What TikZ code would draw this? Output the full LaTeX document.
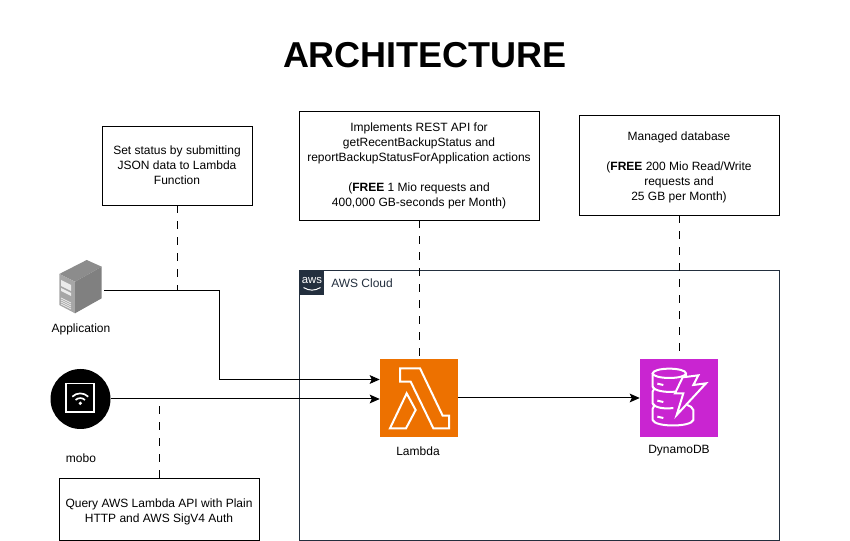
\documentclass[tikz,border=0pt]{standalone}
\usepackage{fontspec}
\setmainfont{Liberation Sans}
\usepackage{tikz}
\usetikzlibrary{arrows.meta, positioning}
\definecolor{awsdark}{HTML}{232F3E}
\definecolor{lambdaorange}{HTML}{ED7100}
\definecolor{dynamopurple}{HTML}{C925D1}

\begin{document}
\begin{tikzpicture}[x=0.75pt, y=-0.75pt, node distance=1cm]

    % Define styles for the nodes
    \tikzstyle{notebox} = [
        rectangle, text centered, draw=black, inner sep=0pt, align=center,
        font=\fontsize{9}{11.25}\selectfont
    ]
    \tikzstyle{iconbox} = [
        rectangle, draw=none, inner sep=0pt,
        minimum width=58.5pt, minimum height=58.5pt
    ]
    \tikzstyle{caption} = [text=black, font=\fontsize{9}{11}\selectfont]
    \tikzstyle{arrow} = [-{Stealth[length=7.5pt, width=6.5pt, inset=1.5pt]}, line width=0.75pt]
    \tikzstyle{dashline} = [line width=0.75pt, dash pattern=on 6pt off 6pt]
    \tikzstyle{glyph} = [draw=white, line width=1.5pt, line join=miter]

    \useasboundingbox (0,0) rectangle (850,541);
    \fill [white] (0,0) rectangle (850,541);

    % Title
    \node (title) at (425,55.5) {\fontsize{27}{32}\selectfont\bfseries ARCHITECTURE};

    % Cloud group
    \node (cloud) [rectangle, draw=awsdark, line width=0.75pt, minimum width=360pt, minimum height=202pt, inner sep=0pt] at (539,405.5) {};
    \node (awslogo) [rectangle, fill=awsdark, minimum width=18.5pt, minimum height=18.5pt, inner sep=0pt] at (312,282.5) {};
    \node [text=white, font=\fontsize{8.5}{8.5}\selectfont] (awsword) at (312,280.5) {aws};
    \draw [white, line width=0.75pt] (303.5,287.5) .. controls (309,291) and (315,291) .. (320.5,287.5);
    \node (cloudlabel) [anchor=west, text=awsdark, inner sep=0pt, font=\fontsize{9}{11}\selectfont] at (331,283.5) {AWS Cloud};

    % Nodes
    \node (status) [notebox, minimum width=112.5pt, minimum height=59.25pt] at (177,165.5) {Set status by submitting\\JSON data to Lambda\\Function};
    \node (rest) [notebox, minimum width=180pt, minimum height=81.75pt] at (419,165.5) {\rule{0pt}{7.5pt}Implements REST API for\\getRecentBackupStatus and\\reportBackupStatusForApplication actions\\[11.25pt](\textbf{FREE} 1 Mio requests and\\400,000 GB-seconds per Month)};
    \node (managed) [notebox, minimum width=150pt, minimum height=75pt] at (679,165) {\rule{0pt}{9.5pt}Managed database\\[11.25pt](\textbf{FREE} 200 Mio Read/Write\\requests and\\25 GB per Month)};
    \node (query) [notebox, minimum width=150pt, minimum height=46.5pt] at (159,509) {\rule{0pt}{11pt}Query AWS Lambda API with Plain\\HTTP and AWS SigV4 Auth};

    \node (server) [rectangle, minimum width=32pt, minimum height=40pt, inner sep=0pt] at (80.5,286.5) {};
    \node (application) [caption] at (81,329) {Application};
    \node (mobile) [circle, fill=black, minimum size=45pt, inner sep=0pt] at (80.5,399) {};
    \node (mobo) [caption] at (81,458) {mobo};
    \node (lambda) [iconbox, fill=lambdaorange] at (419,398) {};
    \node (lambdalabel) [caption] at (418,451) {Lambda};
    \node (dynamo) [iconbox, fill=dynamopurple] at (679,398) {};
    \node (dynamolabel) [caption] at (679,451) {DynamoDB};

    % Server icon
    \fill [black!45] (59.3,274) -- (86.7,260) -- (101.7,266.7) -- (75,281.7) -- cycle;
    \fill [black!35] (59.3,274) -- (75,281.7) -- (75,313.3) -- (59.3,305) -- cycle;
    \fill [black!50] (75,281.7) -- (101.7,266.7) -- (101.7,298.3) -- (75,313.3) -- cycle;
    \fill [white!85!gray] (61,280) -- (71,285) -- (71,291) -- (61,286) -- cycle;
    \fill [white!85!gray] (61,288) -- (71,293) -- (71,296) -- (61,291) -- cycle;
    \foreach \i in {0,1,2,3} {
        \draw [white!85!gray, line width=0.6pt] (61,298+2*\i) -- (71,303+2*\i);
    }

    % Mobile icon
    \draw [white, line width=1.25pt] (65.7,383.5) rectangle (94.3,412.3);
    \fill [white] (80.3,403.3) circle (1.8);
    \draw [white, line width=1.25pt] (75.6,400) arc (-135:-45:6.6);
    \draw [white, line width=1.25pt] (72.3,396.7) arc (-135:-45:11.3);

    % Lambda icon
    \begin{scope}[shift={(370,350)}, x=0.25pt, y=-0.25pt]
        \draw [glyph] (90,55) -- (150,55) -- (218,197) -- (237,197) -- (237,235) -- (190,235) -- (122,95) -- (90,95) -- cycle;
        \draw [glyph] (60,235) -- (110,130) -- (137,180) -- (108,235) -- cycle;
    \end{scope}

    % DynamoDB icon
    \begin{scope}[shift={(630,350)}, x=0.25pt, y=-0.25pt]
        \draw [glyph] (118,70) ellipse (50 and 14);
        \draw [glyph] (168,70) -- (168,85);
        \draw [glyph] (68,70) -- (68,110) .. controls (72,122) and (105,128) .. (135,125);
        \draw [glyph] (68,110) .. controls (74,116) and (74,118) .. (68,124) -- (68,160) .. controls (72,172) and (100,178) .. (130,174);
        \draw [glyph] (68,160) .. controls (74,166) and (74,170) .. (68,176) -- (68,210) .. controls (75,232) and (183,232) .. (190,210) -- (190,180) .. controls (188,172) and (180,168) .. (172,165);
        \foreach \y in {101,152,200} {
            \draw [glyph] (82,\y) -- (100,\y+4);
        }
        \draw [glyph, fill=dynamopurple] (158,82) -- (205,76) -- (190,105) -- (228,100) -- (140,195) -- (160,130) -- (135,130) -- cycle;
    \end{scope}

    % Arrows
    \coordinate (appturn) at (219,290.5);
    \coordinate (appstub) at (status.south |- appturn);
    \coordinate (dynamostub) at (679,352);
    \draw [arrow] (104,290.5) -- (appturn) |- (lambda.west |- 0,379.5);
    \draw [arrow] (mobile.east) -- (lambda.west |- mobile.east);
    \draw [arrow] (lambda.east) -- (dynamo.west);
    \draw [dashline] (status.south) -- (appstub);
    \draw [dashline] (rest.south) -- (lambda.north);
    \draw [dashline] (managed.south) -- (dynamostub);
    \draw [dashline] (query.north) -- (query.north |- mobile.east);

\end{tikzpicture}
\end{document}
